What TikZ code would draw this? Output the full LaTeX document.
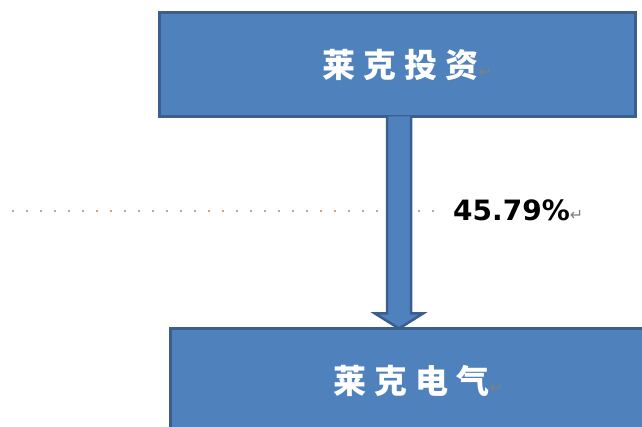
\documentclass[tikz,border=0pt]{standalone}
\usepackage{fontspec}
\setmainfont{DejaVu Sans}
\newfontfamily\cjk[LetterSpace=25]{Noto Sans CJK SC}
\usetikzlibrary{calc,positioning}
\definecolor{boxfill}{HTML}{4F81BD}
\definecolor{boxline}{HTML}{3A5F8F}
\definecolor{dotline}{HTML}{C4A68E}
\newcommand{\retsign}{\rlap{\textcolor{gray}{\normalfont\fontsize{16}{16}\selectfont ↵}}}

\begin{document}
\begin{tikzpicture}[x=1pt,y=-1pt]
\tikzstyle{firm}=[draw=boxline,fill=boxfill,line width=3pt,minimum width=476pt,minimum height=104pt,inner sep=0pt,outer sep=0pt,text=white,font=\cjk\bfseries\fontsize{33}{33}\selectfont]
\tikzstyle{blockarrow}=[draw=boxline,fill=boxfill,line width=2.5pt,line join=miter]
\tikzstyle{share}=[font=\bfseries\fontsize{28}{28}\selectfont,inner sep=0pt,anchor=west]

\useasboundingbox (0,0) rectangle (642,427);
\clip (0,0) rectangle (642,427);

\draw [dotline,line width=2pt,dash pattern=on 2pt off 12pt] (12,211) -- (444,211);

\node [firm] (invest) at (397.5,64.5) {\kern6pt莱克投资\retsign};
\node [firm] (elec) at (408.5,380.5) {\kern6pt莱克电气\retsign};
\node [share] (pct) at (453,210) {45.79\%\retsign};

\coordinate (top) at ($(invest.south)+(1.5,0)$);
\coordinate (tip) at (top |- elec.north);
\draw [blockarrow] ($(top)+(-12,0)$) -- ($(tip)+(-12,-15)$) -- ($(tip)+(-24,-15)$) -- (tip)
  -- ($(tip)+(24,-15)$) -- ($(tip)+(12,-15)$) -- ($(top)+(12,0)$);
\end{tikzpicture}
\end{document}
